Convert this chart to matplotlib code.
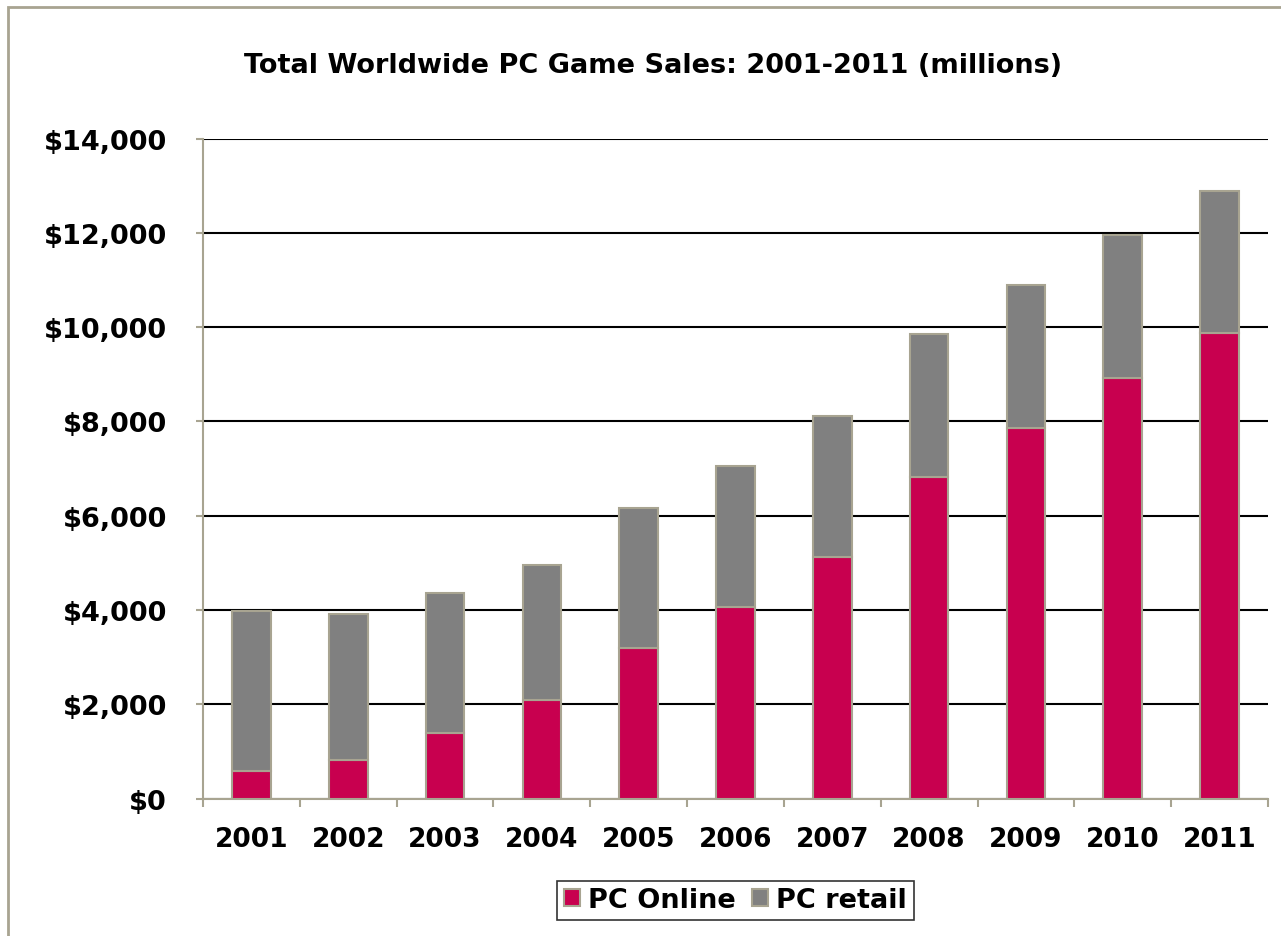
import numpy as np
import matplotlib.pyplot as plt
from matplotlib.patches import Rectangle

# Worldwide PC game sales, millions of USD
years = ["2001", "2002", "2003", "2004", "2005", "2006",
         "2007", "2008", "2009", "2010", "2011"]
pc_online = [580, 815, 1400, 2080, 3200, 4060, 5120, 6830, 7850, 8925, 9865]
pc_total = [3985, 3915, 4355, 4950, 6155, 7050, 8105, 9850, 10900, 11960, 12880]
pc_retail = [t - o for t, o in zip(pc_total, pc_online)]

online_color = "#C8004F"
retail_color = "#808080"
edge_color = "#A8A491"

plt.rcParams["font.family"] = ["Verdana", "DejaVu Sans"]

fig = plt.figure(figsize=(12.81, 9.37), dpi=100)
ax = fig.add_axes([0.1585, 0.1467, 0.8313, 0.7044])

x = np.arange(len(years))
width = 0.4
ax.bar(x, pc_online, width, color=online_color, edgecolor=edge_color,
       linewidth=1.5, label="PC Online", zorder=3)
ax.bar(x, pc_retail, width, bottom=pc_online, color=retail_color,
       edgecolor=edge_color, linewidth=1.5, label="PC retail", zorder=3)

ax.set_xlim(-0.5, len(years) - 0.5)
ax.set_ylim(0, 14000)
ax.set_yticks(np.arange(0, 14001, 2000))
ax.set_yticklabels([f"${v:,.0f}" for v in np.arange(0, 14001, 2000)])
ax.yaxis.grid(True, color="black", linewidth=1.5, zorder=0)
ax.set_axisbelow(True)

# categories sit between the tick marks
ax.set_xticks(np.arange(-0.5, len(years), 1.0))
ax.set_xticklabels([])
ax.set_xticks(x, minor=True)
ax.set_xticklabels(years, minor=True)
ax.tick_params(axis="x", which="minor", length=0, pad=20, labelsize=19)
ax.tick_params(axis="x", which="major", length=6, width=1.5, color=edge_color)
ax.tick_params(axis="y", length=5, width=1.5, color=edge_color, pad=21, labelsize=19.5)
for lbl in ax.get_xticklabels(minor=True) + ax.get_yticklabels():
    lbl.set_fontweight("bold")

for side in ("top", "right"):
    ax.spines[side].set_visible(False)
for side in ("left", "bottom"):
    ax.spines[side].set_color(edge_color)
    ax.spines[side].set_linewidth(1.5)

fig.text(0.51, 0.930, "Total Worldwide PC Game Sales: 2001-2011 (millions)",
         ha="center", va="center", fontsize=19.5, fontweight="bold")

leg = fig.legend(loc="center", bbox_to_anchor=(0.574, 0.038), ncol=2,
                 frameon=True, fancybox=False, edgecolor="black",
                 prop={"size": 19.5, "weight": "bold"}, handlelength=0.6,
                 handleheight=0.6, handletextpad=0.3, columnspacing=0.6,
                 borderpad=0.25)
leg.get_frame().set_linewidth(1.2)

# outer chart frame
fig.patches.append(Rectangle((8 / 1281, -0.1), 1.2, 1 - 8 / 937 + 0.1,
                             transform=fig.transFigure, fill=False,
                             edgecolor=edge_color, linewidth=2))

fig.savefig("out.png", dpi=100)
